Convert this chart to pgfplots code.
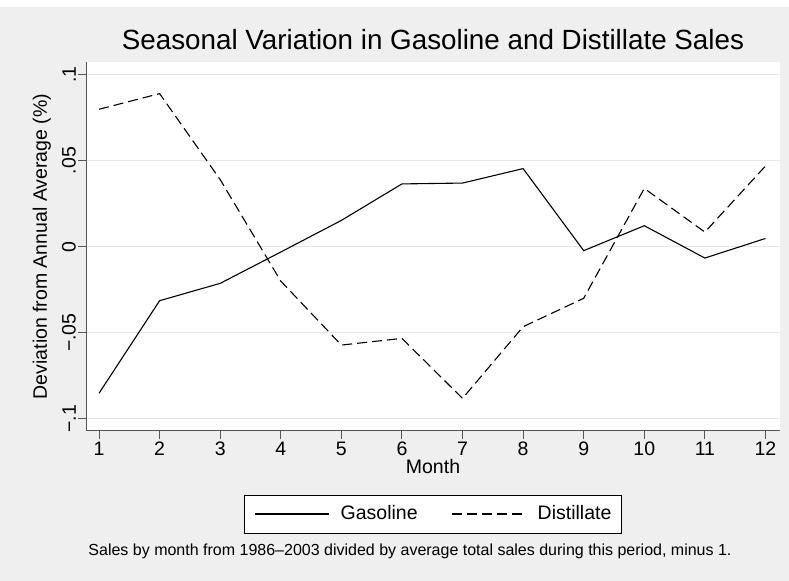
\documentclass[border=0pt]{standalone}
\usepackage{pgfplots}
\pgfplotsset{compat=1.18}
\usepackage{fontspec}
\setmainfont{Liberation Sans}
\definecolor{bgc}{RGB}{239,239,239}
\definecolor{gridc}{RGB}{232,232,232}
\definecolor{axc}{RGB}{85,85,85}
\begin{document}
\begin{tikzpicture}
\fill[bgc] (0bp,0bp) rectangle (789bp,-581bp);
\fill[white] (0bp,0bp) rectangle (789bp,-7bp);
\useasboundingbox (0bp,0bp) rectangle (789bp,-581bp);
\begin{axis}[
  at={(86bp,-430.7bp)}, anchor=south west,
  scale only axis, width=694bp, height=368.4bp,
  xmin=0.785, xmax=12.24, ymin=-0.10698, ymax=0.10721,
  axis x line*=bottom, axis y line*=left,
  axis line style={axc, line width=1bp, -},
  axis background/.style={fill=white},
  tick align=outside, major tick length=8bp,
  tick style={axc, line width=1bp},
  xtick={1,2,3,4,5,6,7,8,9,10,11,12},
  xticklabels={1,2,3,4,5,6,7,8,9,10,11,12},
  ytick={-0.1,-0.05,0,0.05,0.1},
  yticklabels={−.1,−.05,0,.05,.1},
  /pgf/number format/assume math mode=true,
  ymajorgrids, grid style={gridc, line width=1.3bp},
  xticklabel style={font=\fontsize{19.5bp}{23bp}\selectfont, inner sep=3bp},
  yticklabel style={font=\fontsize{19.5bp}{23bp}\selectfont, rotate=90, anchor=south, inner sep=2bp},
  xlabel={Month},
  xlabel style={at={(axis description cs:0.5,-0.1175)}, anchor=base, font=\fontsize{19.5bp}{23bp}\selectfont},
  ylabel={Deviation from Annual Average (\%)},
  ylabel style={at={(axis description cs:-0.0562,0.5)}, anchor=base, rotate=0, font=\fontsize{19.5bp}{23bp}\selectfont},
  legend columns=2,
  legend style={at={(axis description cs:0.5,-0.2261)}, anchor=center,
    draw=black, line width=0.8bp, fill=white,
    inner xsep=10bp, inner ysep=10bp,
    font=\fontsize{19.5bp}{23bp}\selectfont,
    nodes={inner sep=0bp, text height=14bp, text depth=4bp},
    cells={anchor=west},
    /tikz/every odd column/.append style={column sep=11bp},
    /tikz/every even column/.append style={column sep=34bp}},
  legend image code/.code={\draw[#1] (0bp,0bp) -- (74bp,0bp);},
]
\addplot[black, line width=1.1bp] coordinates {
(1,-0.0852) (2,-0.0314) (3,-0.0213) (4,-0.0031) (5,0.0153) (6,0.0365)
(7,0.0370) (8,0.0454) (9,-0.0023) (10,0.0122) (11,-0.0066) (12,0.0048)};
\addlegendentry{Gasoline}
\addplot[black, line width=1.1bp, dash pattern=on 10bp off 5bp] coordinates {
(1,0.0799) (2,0.0890) (3,0.039) (4,-0.020) (5,-0.0572) (6,-0.0533)
(7,-0.0882) (8,-0.0465) (9,-0.0300) (10,0.0339) (11,0.0085) (12,0.0469)};
\addlegendentry{Distillate}
\end{axis}
\node[anchor=base, inner sep=0pt, font=\fontsize{27.8bp}{32bp}\selectfont] at (433bp,-49bp) {Seasonal Variation in Gasoline and Distillate Sales};
\node[anchor=base, inner sep=0pt, font=\fontsize{16bp}{19bp}\selectfont] at (410bp,-555bp) {Sales by month from 1986–2003 divided by average total sales during this period, minus 1.};
\end{tikzpicture}
\end{document}
